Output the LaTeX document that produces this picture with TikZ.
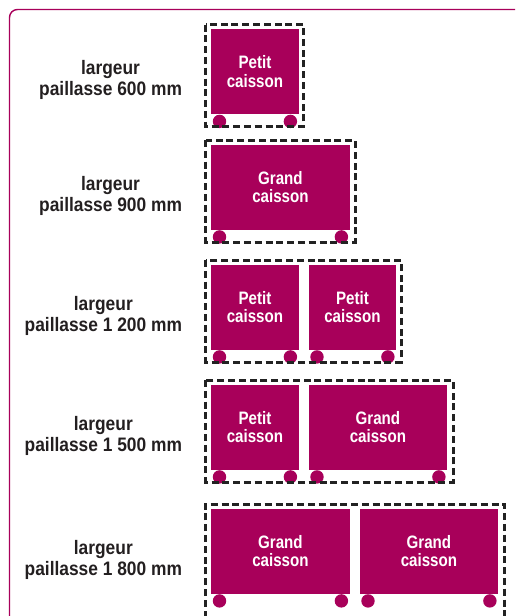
\documentclass[tikz,border=0pt]{standalone}
\usepackage{fontspec}
\usetikzlibrary{calc}
\newfontfamily\labfam[FakeStretch=0.89]{Liberation Sans}
\newfontfamily\caisfam[FakeStretch=0.84]{Liberation Sans}
\newcommand\labfontsz{\labfam\bfseries\fontsize{19.5}{21}\selectfont}
\newcommand\caisfontsz{\caisfam\bfseries\fontsize{18}{18.5}\selectfont}
\definecolor{mag}{RGB}{168,0,90}
\definecolor{ink}{RGB}{35,31,32}
\definecolor{dashgray}{RGB}{34,34,34}
\newcommand\placecais[5]{% name, left x, row top, width, text
  \node[caisson, minimum width=#4pt] (#1) at (#2,#3+4.5) {#5};
  \node[wheel] (#1wl) at ($(#1.south west)+(8.5,7)$) {};
  \node[wheel] (#1wr) at ($(#1.south east)+(-8.5,7)$) {};}
\begin{document}
\begin{tikzpicture}[x=1pt,y=-1pt,
  caisson/.style={fill=mag, draw=none, inner sep=0pt, anchor=north west,
    minimum height=85pt, text=white, font=\caisfontsz, align=center,
    text depth=0pt},
  wheel/.style={circle, fill=mag, draw=none, inner sep=0pt, minimum size=13.4pt},
  frame/.style={draw=dashgray, line width=3pt, dash pattern=on 7pt off 3.8pt},
  label/.style={anchor=east, text=ink, font=\labfontsz, align=center}]
\useasboundingbox (0,0) rectangle (515,616);
\clip (0,0) rectangle (515,616);
% outer frame
\draw[mag, line width=1.4pt, rounded corners=8pt] (9.5,650) -- (9.5,9.5) -- (560,9.5);
% row 1
\node[label] (l1) at (185.5,80.4) {largeur\\paillasse 600 mm};
\placecais{a1}{211}{24.5}{87.5}{Petit\\caisson}
\draw[frame] (205.5,24.5) rectangle (303.5,126.5);
% row 2
\node[label] (l2) at (185.5,195.9) {largeur\\paillasse 900 mm};
\placecais{b1}{211}{140}{138.5}{Grand\\caisson}
\draw[frame] (205.5,140) rectangle (355,242);
% row 3
\node[label] (l3) at (185.5,315.9) {largeur\\paillasse 1 200 mm};
\placecais{c1}{211}{260}{87.5}{Petit\\caisson}
\placecais{c2}{308.5}{260}{87.5}{Petit\\caisson}
\draw[frame] (205.5,260) rectangle (401,362);
% row 4
\node[label] (l4) at (185.5,435.9) {largeur\\paillasse 1 500 mm};
\placecais{d1}{211}{380}{87.5}{Petit\\caisson}
\placecais{d2}{308.5}{380}{138.5}{Grand\\caisson}
\draw[frame] (205.5,380) rectangle (453,482);
% row 5
\node[label] (l5) at (185.5,559.9) {largeur\\paillasse 1 800 mm};
\placecais{e1}{211}{504}{138.5}{Grand\\caisson}
\placecais{e2}{359.5}{504}{138.5}{Grand\\caisson}
\draw[frame] (205.5,650) -- (205.5,504) -- (504,504) -- (504,650);
\end{tikzpicture}
\end{document}
